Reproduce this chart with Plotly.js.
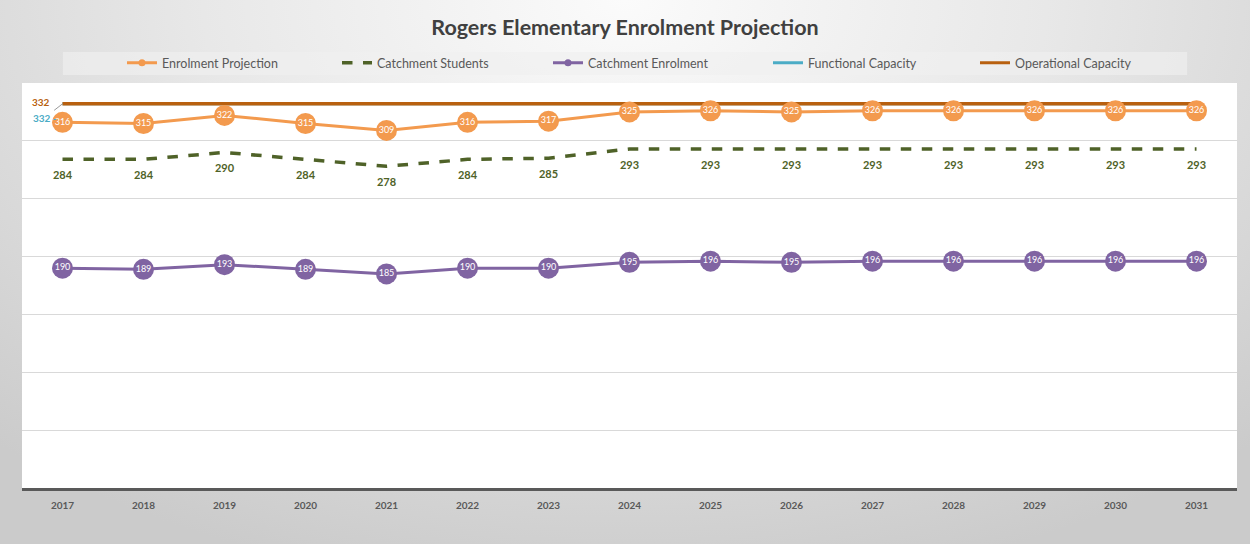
<!DOCTYPE html>
<html>
<head>
<meta charset="utf-8">
<script src="https://cdn.plot.ly/plotly-3.0.1.min.js"></script>
<style>
  html, body { margin: 0; padding: 0; }
  #wrap {
    width: 1250px; height: 544px;
    background: radial-gradient(ellipse 75% 110% at 50% 0%, #fbfbfb 0%, #e8e8e8 45%, #cbcbcb 100%);
  }
  #chart { width: 1250px; height: 544px; }
</style>
</head>
<body>
<div id="wrap"><div id="chart"></div></div>
<script>
const years = ["2017","2018","2019","2020","2021","2022","2023","2024","2025","2026","2027","2028","2029","2030","2031"];
const enrolmentProjection = [316,315,322,315,309,316,317,325,326,325,326,326,326,326,326];
const catchmentStudents   = [284,284,290,284,278,284,285,293,293,293,293,293,293,293,293];
const catchmentEnrolment  = [190,189,193,189,185,190,190,195,196,195,196,196,196,196,196];
const functionalCapacity  = [332,332,332,332,332,332,332,332,332,332,332,332,332,332,332];
const operationalCapacity = [332,332,332,332,332,332,332,332,332,332,332,332,332,332,332];
const seriesNames = ["Enrolment Projection","Catchment Students","Catchment Enrolment","Functional Capacity","Operational Capacity"];

const cOrange = "#F39A4E", cOlive = "#4F6228", cPurple = "#8064A2", cTeal = "#4BACC6", cBrown = "#B8600F";
const FONT = "Lato, 'Open Sans', sans-serif";

const traces = [
  // legend-only entries (no data)
  {type:"scatter", x:[null], y:[null], name:seriesNames[0], mode:"lines+markers", legendwidth:170,
   line:{color:cOrange, width:3}, marker:{color:cOrange, size:7}, hoverinfo:"skip"},
  {type:"scatter", x:[null], y:[null], name:seriesNames[1], mode:"lines", legendwidth:166,
   line:{color:cOlive, width:3.5, dash:"dash"}, hoverinfo:"skip"},
  {type:"scatter", x:[null], y:[null], name:seriesNames[2], mode:"lines+markers", legendwidth:175,
   line:{color:cPurple, width:3}, marker:{color:cPurple, size:7}, hoverinfo:"skip"},
  {type:"scatter", x:[null], y:[null], name:seriesNames[3], mode:"lines", legendwidth:162,
   line:{color:cTeal, width:3}, hoverinfo:"skip"},
  {type:"scatter", x:[null], y:[null], name:seriesNames[4], mode:"lines", legendwidth:168,
   line:{color:cBrown, width:3}, hoverinfo:"skip"},
  // real data
  {type:"scatter", x:years, y:functionalCapacity, name:seriesNames[3], mode:"lines", showlegend:false,
   line:{color:cTeal, width:3}},
  {type:"scatter", x:years, y:operationalCapacity, name:seriesNames[4], mode:"lines", showlegend:false,
   line:{color:cBrown, width:3.5}},
  {type:"scatter", x:years, y:catchmentStudents, name:seriesNames[1], mode:"lines+markers+text", showlegend:false,
   line:{color:cOlive, width:3.5, dash:"dash"}, marker:{size:17, color:"rgba(0,0,0,0)"},
   text:catchmentStudents.map(String), textposition:"bottom center",
   textfont:{family:FONT, size:11, color:cOlive, weight:"bold"}},
  {type:"scatter", x:years, y:catchmentEnrolment, name:seriesNames[2], mode:"lines+markers+text", showlegend:false,
   line:{color:cPurple, width:3}, marker:{color:cPurple, size:21},
   text:catchmentEnrolment.map(String), textposition:"middle center",
   textfont:{family:FONT, size:9, color:"#ffffff"}},
  {type:"scatter", x:years, y:enrolmentProjection, name:seriesNames[0], mode:"lines+markers+text", showlegend:false,
   line:{color:cOrange, width:3}, marker:{color:cOrange, size:21},
   text:enrolmentProjection.map(String), textposition:"middle center",
   textfont:{family:FONT, size:9, color:"#ffffff"}}
];

const firstIdx = years.indexOf(years[0]);

const layout = {
  width:1250, height:544,
  paper_bgcolor:"rgba(0,0,0,0)", plot_bgcolor:"#ffffff",
  margin:{l:22, r:13, t:83, b:56},
  title:{text:"Rogers Elementary Enrolment Projection", x:0.5, xanchor:"center", y:0.95, yanchor:"middle",
         font:{family:FONT, size:21.5, color:"#404040", weight:"bold"}},
  showlegend:true,
  legend:{orientation:"h", x:0.0823, xanchor:"left", y:1.049, yanchor:"middle",
          bgcolor:"rgba(0,0,0,0)",
          font:{family:FONT, size:12.5, color:"#595959"}},
  xaxis:{type:"category", range:[-0.5, 14.5], showgrid:false, zeroline:false,
         showline:true, linecolor:"#595959", linewidth:2.5, ticks:"", ticklabelstandoff:6,
         tickfont:{family:FONT, size:10, color:"#595959", weight:"bold"}, fixedrange:true},
  yaxis:{range:[0,350], tickvals:[0,50,100,150,200,250,300], showticklabels:false,
         showgrid:true, gridcolor:"#d9d9d9", gridwidth:1, zeroline:false, showline:false, fixedrange:true},
  shapes:[{type:"rect", xref:"paper", yref:"paper", x0:0.0337, x1:0.959, y0:1.0198, y1:1.0765,
           fillcolor:"rgba(240,240,240,0.65)", line:{width:0}, layer:"below"}],
  annotations:[
    {xref:"x", yref:"y", x:firstIdx, y:operationalCapacity[0], text:String(operationalCapacity[0]),
     showarrow:false, xshift:-22, yshift:2, font:{family:FONT, size:10, color:cBrown, weight:"bold"}},
    {xref:"x", yref:"y", x:firstIdx, y:functionalCapacity[0], text:String(functionalCapacity[0]) + " -",
     showarrow:true, arrowhead:0, arrowwidth:0.8, arrowcolor:"#7f7f7f", ax:-18, ay:14,
     font:{family:FONT, size:10, color:cTeal, weight:"bold"}}
  ]
};

Plotly.newPlot("chart", traces, layout, {displayModeBar:false, staticPlot:true});
</script>
</body>
</html>
